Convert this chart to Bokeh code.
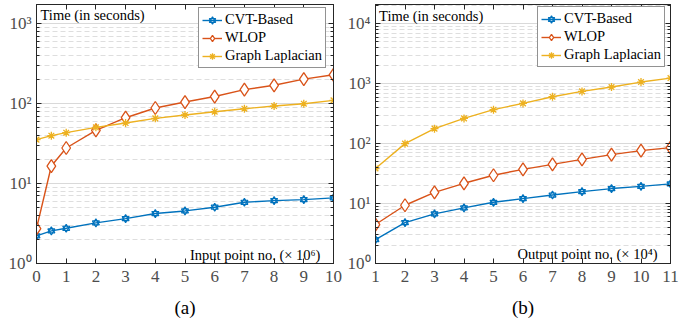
from bokeh.plotting import figure
from bokeh.models import (Legend, LegendItem, Label, LinearAxis, LogAxis, FixedTicker,
                          LogTicker, Range1d, CustomJSTickFormatter)
from bokeh.layouts import row
from bokeh.embed import file_html
from bokeh.resources import INLINE

# ---------------- data ----------------
x_a = [0, 0.5, 1, 2, 3, 4, 5, 6, 7, 8, 9, 10]
cvt_a = [2.22, 2.56, 2.76, 3.22, 3.65, 4.22, 4.55, 5.06, 5.84, 6.13, 6.31, 6.62]
wlop_a = [2.74, 16.6, 27.9, 46.4, 66.8, 88.4, 105, 123, 150, 170, 203, 230]
gl_a = [35.5, 39.8, 43.4, 50.6, 57.3, 65.6, 72.2, 79.4, 86.6, 93.5, 100, 110]

x_b = [1, 2, 3, 4, 5, 6, 7, 8, 9, 10, 11]
cvt_b = [2.51, 4.82, 6.73, 8.47, 10.5, 12.1, 13.9, 15.8, 17.8, 19.4, 21.3]
wlop_b = [4.47, 9.38, 15.4, 21.8, 29.7, 37.3, 45.2, 54.7, 65.6, 76.5, 85.8]
gl_b = [38.5, 100, 178, 264, 369, 470, 607, 745, 880, 1066, 1243]

series_names = ["CVT-Based", "WLOP", "Graph Laplacian"]
xticks_a = list(range(0, 11))
xticks_b = list(range(1, 12))
ylabel_text = "Time (in seconds)"
xlabel_a = "Input point no. (\u00d7 10\u2076)"
xlabel_b = "Output point no. (\u00d7 10\u2074)"
captions = ["(a)", "(b)"]
pow_labels = {1: "10\u2070", 10: "10\u00b9", 100: "10\u00b2", 1000: "10\u00b3", 10000: "10\u2074"}

BLUE = "#0072BD"
RED = "#D95319"
YEL = "#EDB120"
FONT = "Liberation Serif"
AXC = "#262626"
TICKC = "#4d4d4d"


def style_axis(ax):
    ax.axis_line_color = AXC
    ax.major_tick_line_color = AXC
    ax.minor_tick_line_color = AXC
    ax.major_tick_in = 5
    ax.major_tick_out = 0
    ax.minor_tick_in = 3
    ax.minor_tick_out = 0
    ax.major_label_text_font = FONT
    ax.major_label_text_color = TICKC
    ax.major_label_text_font_size = "17px"


def hide_labels(ax):
    ax.formatter = CustomJSTickFormatter(code="return ''")
    ax.major_label_text_font_size = "1px"
    ax.major_label_standoff = 0
    ax.major_label_text_color = None


def make(xs, cvt, wlop, gl, xticks, xr, yr, bl, br, cap, xlab, xlab_pos, tpos, lloc):
    p = figure(width=344, height=322, y_axis_type="log", output_backend="svg",
               toolbar_location=None, x_range=Range1d(*xr), y_range=Range1d(*yr),
               min_border_left=bl, min_border_right=br, min_border_top=4,
               min_border_bottom=59)
    p.outline_line_color = AXC
    p.background_fill_color = "white"
    p.border_fill_color = "white"

    p.xgrid.grid_line_color = None
    p.ygrid.grid_line_color = "#d9d9d9"
    p.ygrid.minor_grid_line_color = "#dedede"
    p.ygrid.minor_grid_line_dash = "5 3"

    p.yaxis.ticker = LogTicker(num_minor_ticks=10, desired_num_ticks=6)
    p.yaxis.major_label_overrides = pow_labels
    style_axis(p.yaxis[0])
    p.yaxis.major_label_standoff = 5

    p.xaxis.ticker = FixedTicker(ticks=xticks)
    style_axis(p.xaxis[0])
    p.xaxis.minor_tick_line_color = None
    p.xaxis.major_label_standoff = 7
    p.xaxis.axis_label = cap
    p.xaxis.axis_label_text_font = FONT
    p.xaxis.axis_label_text_font_style = "normal"
    p.xaxis.axis_label_text_font_size = "19px"
    p.xaxis.axis_label_text_color = "black"
    p.xaxis.axis_label_standoff = 12

    top = LinearAxis(ticker=FixedTicker(ticks=xticks))
    style_axis(top)
    top.minor_tick_line_color = None
    hide_labels(top)
    p.add_layout(top, "above")
    right = LogAxis(ticker=LogTicker(num_minor_ticks=10, desired_num_ticks=6))
    style_axis(right)
    hide_labels(right)
    p.add_layout(right, "right")

    r_l1 = p.line(xs, cvt, color=BLUE, line_width=1.4)
    r_m1 = p.scatter(xs, cvt, marker="triangle", size=7, line_color=BLUE,
                     fill_color=None, line_width=1.2)
    r_m1b = p.scatter(xs, cvt, marker="inverted_triangle", size=7, line_color=BLUE,
                      fill_color=None, line_width=1.2)
    r_l2 = p.line(xs, wlop, color=RED, line_width=1.4)
    r_m2 = p.scatter(xs, wlop, marker="diamond", size=13, line_color=RED,
                     fill_color="white", line_width=1.3)
    r_l3 = p.line(xs, gl, color=YEL, line_width=1.4)
    r_m3 = p.scatter(xs, gl, marker="asterisk", size=8, line_color=YEL, line_width=1.3)

    legend = Legend(items=[
        LegendItem(label=series_names[0], renderers=[r_l1, r_m1, r_m1b]),
        LegendItem(label=series_names[1], renderers=[r_l2, r_m2]),
        LegendItem(label=series_names[2], renderers=[r_l3, r_m3]),
    ], location=lloc)
    legend.margin = 0
    legend.padding = 3
    legend.spacing = 1
    legend.glyph_width = 20
    legend.glyph_height = 16
    legend.label_height = 16
    legend.label_standoff = 3
    legend.label_text_font = FONT
    legend.label_text_font_size = "14.5px"
    legend.label_text_color = "black"
    legend.border_line_color = AXC
    legend.border_line_width = 1
    legend.background_fill_alpha = 1.0
    p.add_layout(legend)

    p.add_layout(Label(x=tpos[0], y=tpos[1], text=ylabel_text, text_font=FONT,
                       text_font_size="14.5px", text_color="black",
                       text_align="left", text_baseline="middle"))
    p.add_layout(Label(x=xlab_pos[0], y=xlab_pos[1], text=xlab, text_font=FONT,
                       text_font_size="14.5px", text_color="black",
                       text_align="right", text_baseline="middle"))
    return p


p1 = make(x_a, cvt_a, wlop_a, gl_a, xticks_a, (0, 10), (1, 1745), 36, 11,
          captions[0], xlabel_a, (9.56, 1.285), (0.135, 1271), (162, 195))
p2 = make(x_b, cvt_b, wlop_b, gl_b, xticks_b, (1, 11), (1, 21000), 27, 18,
          captions[1], xlabel_b, (10.56, 1.45), (1.12, 13740), (162, 196))

layout = row(p1, p2)
open("out.html", "w").write(file_html(layout, INLINE))
